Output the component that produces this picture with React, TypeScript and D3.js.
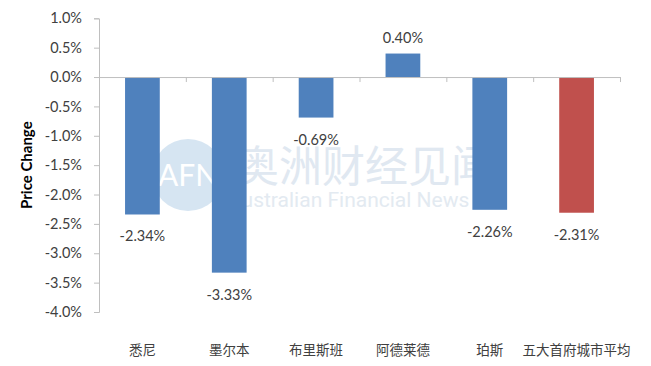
import * as d3 from 'd3';
import { useEffect, useRef } from 'react';

const cities = ['悉尼', '墨尔本', '布里斯班', '阿德莱德', '珀斯', '五大首府城市平均'];
const priceChange = [-0.0234, -0.0333, -0.0069, 0.004, -0.0226, -0.0231];
const yTicks = [0.01, 0.005, 0, -0.005, -0.01, -0.015, -0.02, -0.025, -0.03, -0.035, -0.04];

const W = 651;
const H = 366;
const FONT = 'Lato, "Noto Sans CJK SC", sans-serif';

// Excel style labels use a plain hyphen, not d3's unicode minus
const hyphen = (s: string) => s.replace('\u2212', '-');

export default function App() {
  const svgRef = useRef<SVGSVGElement>(null);

  useEffect(() => {
    if (!svgRef.current) return;
    const svg = d3.select(svgRef.current);
    svg.selectAll('*').remove();

    const left = 99;
    const right = 620;
    const top = 18.3;
    const bottom = 312;

    const x = d3.scaleBand<string>().domain(cities).range([left, right]).paddingInner(0.6).paddingOuter(0.3);
    const y = d3.scaleLinear().domain([-0.04, 0.01]).range([bottom, top]);
    const fmtTick = d3.format('.1%');
    const fmtVal = d3.format('.2%');

    svg.append('rect').attr('width', W).attr('height', H).attr('fill', '#fff');

    // watermark (behind the bars)
    const wm = svg.append('g').attr('pointer-events', 'none');
    wm.append('circle').attr('cx', 188).attr('cy', 175).attr('r', 36).attr('fill', '#d6e5f2');
    wm.append('text')
      .attr('x', 188)
      .attr('y', 186)
      .attr('text-anchor', 'middle')
      .attr('font-family', FONT)
      .attr('font-size', 30)
      .attr('fill', '#ffffff')
      .text('AFN');
    wm.append('text')
      .attr('x', 236)
      .attr('y', 182)
      .attr('font-family', '"Noto Sans CJK SC", sans-serif')
      .attr('font-size', 43)
      .attr('fill', '#e0e8f1')
      .text('奥洲财经见闻');
    wm.append('text')
      .attr('x', 228)
      .attr('y', 207)
      .attr('font-family', 'Roboto, sans-serif')
      .attr('font-size', 21)
      .attr('fill', '#e3eaf1')
      .text('Australian Financial News');

    // y axis
    const yAxis = svg
      .append('g')
      .attr('transform', `translate(${left},0)`)
      .call(
        d3
          .axisLeft(y)
          .tickValues(yTicks)
          .tickSize(5)
          .tickPadding(12)
          .tickFormat((d) => hyphen(fmtTick(d as number)))
      );
    yAxis.selectAll('.domain').attr('stroke', '#bfbfbf');
    yAxis.selectAll('.tick line').attr('stroke', '#bfbfbf');
    yAxis
      .selectAll('.tick text')
      .attr('fill', '#404040')
      .attr('font-size', 14.5)
      .attr('font-family', FONT);

    // bars
    svg
      .append('g')
      .selectAll('rect')
      .data(priceChange)
      .join('rect')
      .attr('x', (_, i) => x(cities[i])!)
      .attr('width', x.bandwidth())
      .attr('y', (d) => y(Math.max(0, d)))
      .attr('height', (d) => Math.abs(y(d) - y(0)))
      .attr('fill', (_, i) => (i === cities.length - 1 ? '#c0504d' : '#4f81bd'));

    // zero axis with category separators
    const step = x.step();
    const xAxis = svg
      .append('g')
      .attr('transform', `translate(0,${y(0)})`)
      .call(
        d3
          .axisBottom(d3.scaleLinear().domain([0, cities.length]).range([left, right]))
          .tickValues(d3.range(1, cities.length + 1))
          .tickSize(5)
          .tickSizeOuter(0)
          .tickFormat(() => '')
      );
    xAxis.selectAll('.domain').attr('stroke', '#bfbfbf');
    xAxis.selectAll('.tick line').attr('stroke', '#bfbfbf');

    // value labels
    svg
      .append('g')
      .selectAll('text')
      .data(priceChange)
      .join('text')
      .attr('x', (_, i) => x(cities[i])! + x.bandwidth() / 2)
      .attr('y', (d) => (d >= 0 ? y(d) - 11 : y(d) + 27))
      .attr('text-anchor', 'middle')
      .attr('font-family', FONT)
      .attr('font-size', 14.5)
      .attr('fill', '#404040')
      .text((d) => hyphen(fmtVal(d)));

    // category labels
    svg
      .append('g')
      .selectAll('text')
      .data(cities)
      .join('text')
      .attr('x', (_, i) => left + step * (i + 0.5))
      .attr('y', 355)
      .attr('text-anchor', 'middle')
      .attr('font-family', '"Noto Sans CJK SC", sans-serif')
      .attr('font-size', 13.5)
      .attr('fill', '#404040')
      .text((d) => d);

    // y title
    svg
      .append('text')
      .attr('transform', `translate(32,${(top + bottom) / 2}) rotate(-90)`)
      .attr('text-anchor', 'middle')
      .attr('font-family', FONT)
      .attr('font-weight', 'bold')
      .attr('font-size', 15)
      .attr('fill', '#000')
      .text('Price Change');
  }, []);

  return <svg ref={svgRef} width={W} height={H} style={{ position: 'absolute', left: 0, top: 0, display: 'block' }} />;
}
